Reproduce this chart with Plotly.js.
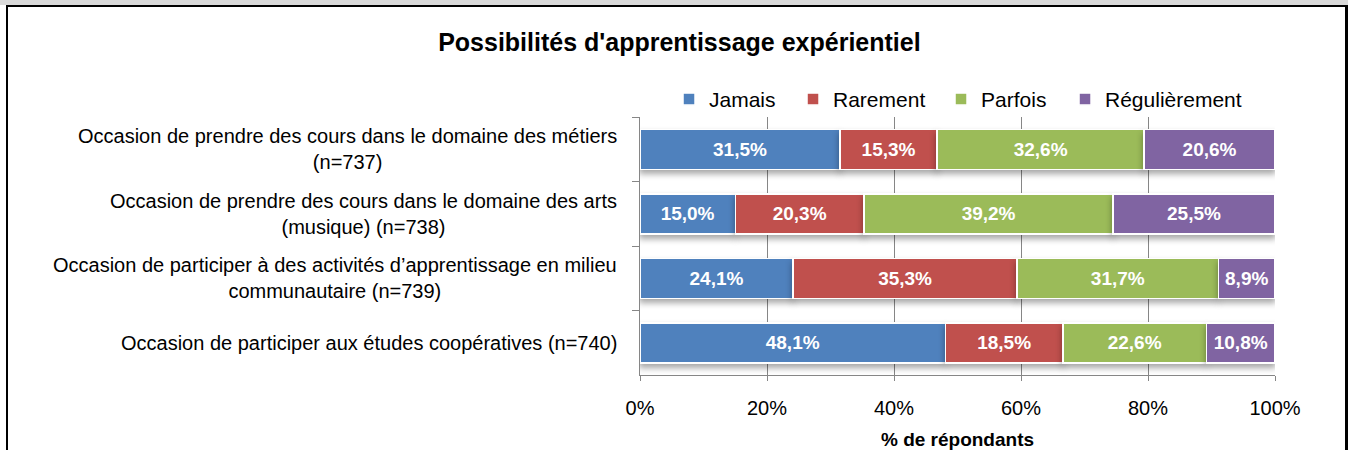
<!DOCTYPE html>
<html>
<head>
<meta charset="utf-8">
<script src="https://cdn.plot.ly/plotly-3.0.1.min.js"></script>
<style>
  html, body { margin: 0; padding: 0; background: #ffffff; }
  #wrap { position: relative; width: 1348px; height: 450px; overflow: hidden; background: #ffffff; }
  #chart { position: absolute; left: 0; top: 0; width: 1348px; height: 450px; }
  .band { position: absolute; left: 0; top: 0; width: 1348px; height: 5px; background: #d9d9d9; z-index: 5; }
  .btop { position: absolute; left: 6px; top: 5px; width: 1342px; height: 2px; background: #000; z-index: 6; }
  .bleft { position: absolute; left: 6px; top: 5px; width: 2px; height: 445px; background: #000; z-index: 6; }
  .bright { position: absolute; left: 1345px; top: 5px; width: 3px; height: 445px; background: #000; z-index: 6; }
  .barlayer .point path { filter: drop-shadow(0px 4px 3px rgba(0,0,0,0.35)); }
</style>
</head>
<body>
<div id="wrap">
  <div class="band"></div>
  <div class="btop"></div>
  <div class="bleft"></div>
  <div class="bright"></div>
  <div id="chart"></div>
</div>
<script>
const categories = [
  "Occasion de prendre des cours dans le domaine des métiers<br>(n=737)",
  "Occasion de prendre des cours dans le domaine des arts<br>(musique) (n=738)",
  "Occasion de participer à des activités d’apprentissage en milieu<br>communautaire (n=739)",
  "Occasion de participer aux études coopératives (n=740)"
];
const seriesNames = ["Jamais", "Rarement", "Parfois", "Régulièrement"];
const jamais = [31.5, 15.0, 24.1, 48.1];
const rarement = [15.3, 20.3, 35.3, 18.5];
const parfois = [32.6, 39.2, 31.7, 22.6];
const regulierement = [20.6, 25.5, 8.9, 10.8];
const xTickValues = [0, 20, 40, 60, 80, 100];
const xTickLabels = ["0%", "20%", "40%", "60%", "80%", "100%"];

const seriesValues = [jamais, rarement, parfois, regulierement];
const colors = ["#4F81BD", "#C0504D", "#9BBB59", "#8064A2"];
const legendWidths = [79, 103, 79, 148];
const catIds = categories.map((c, i) => "c" + i);

const traces = seriesNames.map((name, i) => ({
  type: "bar",
  orientation: "h",
  name: name,
  y: catIds,
  x: seriesValues[i],
  legendwidth: legendWidths[i],
  marker: { color: colors[i], line: { color: "#ffffff", width: 1.5 } },
  texttemplate: "%{x:.1f}%",
  textposition: "inside",
  insidetextanchor: "middle",
  textangle: 0,
  constraintext: "none",
  textfont: { family: "Liberation Sans, Arial, sans-serif", size: 19, color: "#ffffff", weight: "bold" },
  hoverinfo: "skip"
}));

const annotations = categories.map((c, i) => ({
  xref: "paper", yref: "y",
  x: -0.033, y: catIds[i],
  xanchor: "right", yanchor: "middle",
  align: "center",
  text: c,
  showarrow: false,
  font: { family: "Liberation Sans, Arial, sans-serif", size: 20, color: "#000000" }
}));

const layout = {
  width: 1348, height: 450,
  margin: { l: 640, r: 73, t: 117, b: 75, pad: 0 },
  paper_bgcolor: "rgba(0,0,0,0)",
  plot_bgcolor: "rgba(0,0,0,0)",
  separators: ", ",
  barmode: "stack",
  bargap: 0.38,
  hovermode: false,
  showlegend: true,
  title: {
    text: "<b>Possibilités d'apprentissage expérientiel</b>",
    x: 0.504, xref: "container", xanchor: "center",
    y: 0.906, yref: "container", yanchor: "middle",
    font: { family: "Liberation Sans, Arial, sans-serif", size: 25, color: "#000000" }
  },
  legend: {
    orientation: "h",
    x: 0.0457, xanchor: "left",
    y: 1.068, yanchor: "middle",
    font: { family: "Liberation Sans, Arial, sans-serif", size: 21, color: "#000000" },
    traceorder: "normal",
    bgcolor: "rgba(0,0,0,0)"
  },
  xaxis: {
    range: [0, 100],
    tickmode: "array",
    tickvals: xTickValues,
    ticktext: xTickLabels,
    showgrid: true,
    gridcolor: "#868686",
    gridwidth: 1,
    showline: true,
    linecolor: "#868686",
    linewidth: 1,
    ticks: "outside",
    ticklen: 5,
    tickcolor: "#868686",
    ticklabelstandoff: 10,
    zeroline: false,
    tickfont: { family: "Liberation Sans, Arial, sans-serif", size: 20, color: "#000000" },
    title: {
      text: "<b>% de répondants</b>",
      standoff: 14,
      font: { family: "Liberation Sans, Arial, sans-serif", size: 19, color: "#000000" }
    }
  },
  yaxis: {
    type: "category",
    autorange: "reversed",
    showticklabels: false,
    showline: true,
    linecolor: "#868686",
    linewidth: 1,
    ticks: "outside",
    tickson: "boundaries",
    ticklen: 7,
    tickcolor: "#868686",
    showgrid: false,
    zeroline: false
  },
  annotations: annotations
};

Plotly.newPlot("chart", traces, layout, { displayModeBar: false, staticPlot: true });
</script>
</body>
</html>
